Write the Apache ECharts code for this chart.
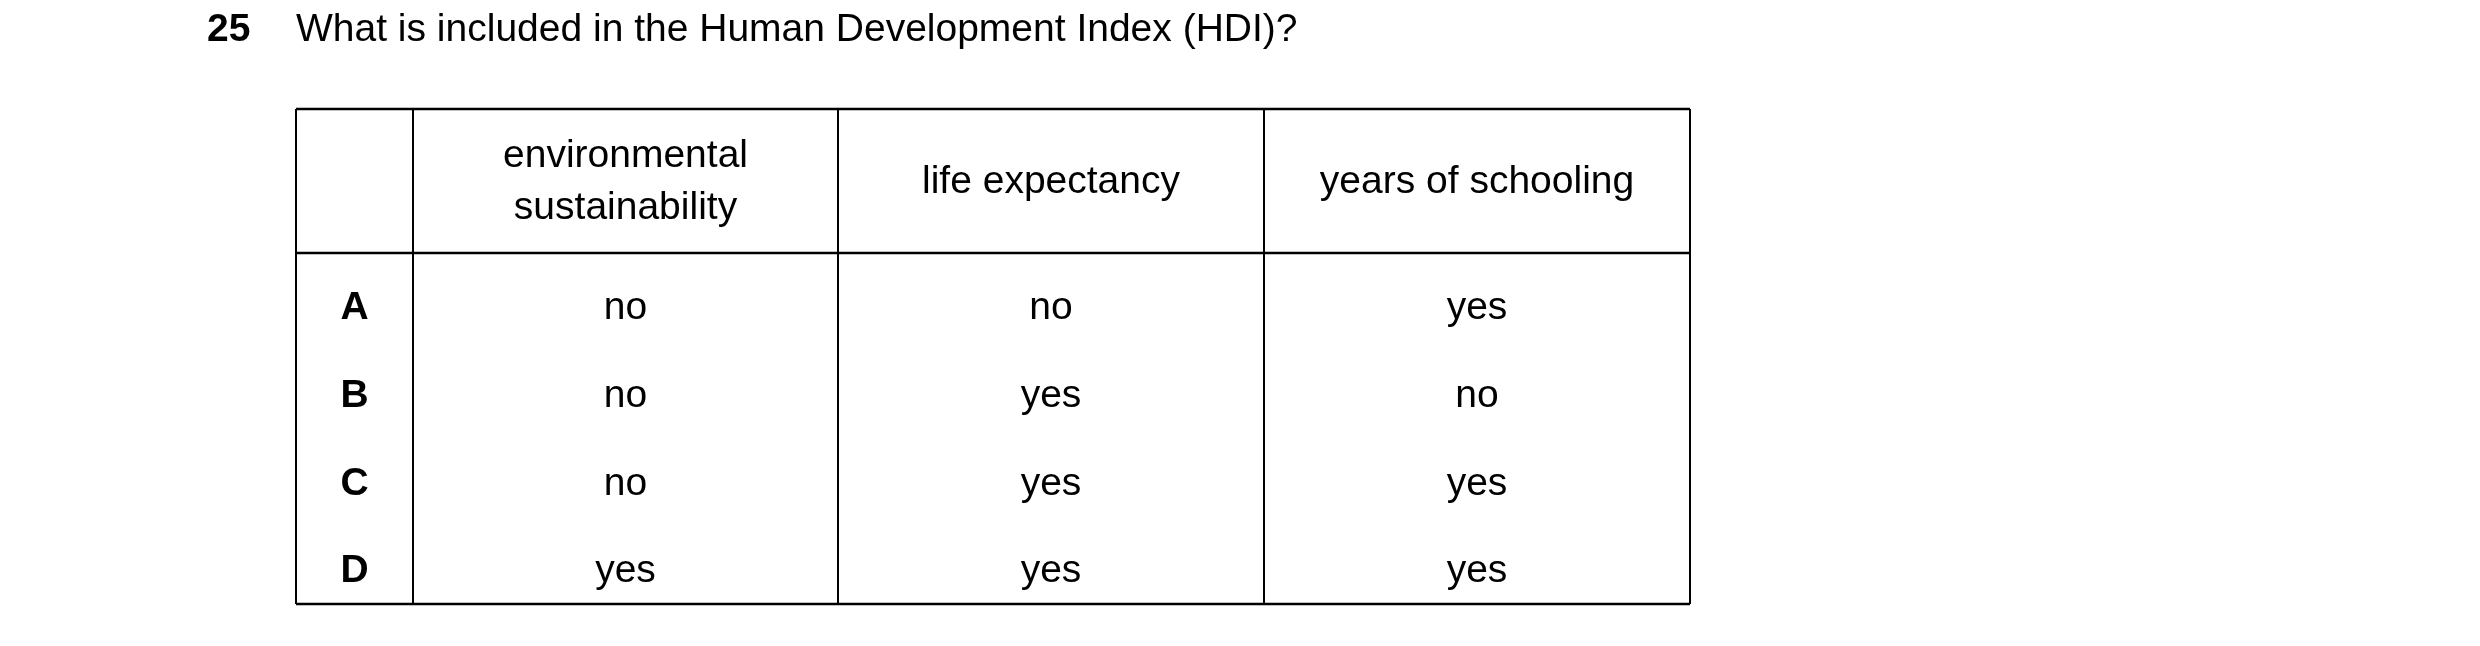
<!DOCTYPE html>
<html><head><meta charset="utf-8">
<script src="https://cdn.jsdelivr.net/npm/echarts@6/dist/echarts.min.js"></script>
<style>html,body{margin:0;background:#fff}#c{width:2480px;height:646px}</style>
</head><body><div id="c"></div>
<script>
const questionNumber = '25';
const questionText = 'What is included in the Human Development Index (HDI)?';
const columns = ['environmental\nsustainability', 'life expectancy', 'years of schooling'];
const rowLabels = ['A', 'B', 'C', 'D'];
const environmental = ['no', 'no', 'no', 'yes'];
const lifeExpectancy = ['no', 'yes', 'yes', 'yes'];
const schooling = ['yes', 'no', 'yes', 'yes'];

(function () {
const chart = echarts.init(document.getElementById('c'));
const F = 'Liberation Sans, Arial, sans-serif';
const colX = [296, 413, 838, 1264, 1690];
const tableTop = 109, headBottom = 253, tableBottom = 604;
const rowY = [308, 396, 484, 571];
const g = [];
const line = (x1, y1, x2, y2, w) => g.push({type:'line', shape:{x1,y1,x2,y2}, style:{stroke:'#000', lineWidth:w}});
const text = (x, y, t, size, bold) => g.push({type:'text', x, y, style:{text:t, font:(bold?'bold ':'')+size+'px '+F, fill:'#000', align:'center', verticalAlign:'middle', lineHeight:52}});
g.push({type:'text', x:207, y:30, style:{text:questionNumber, font:'bold 39px '+F, fill:'#000', align:'left', verticalAlign:'middle'}});
g.push({type:'text', x:296, y:30, style:{text:questionText, font:'39px '+F, fill:'#000', align:'left', verticalAlign:'middle'}});
line(colX[0], tableTop, colX[4], tableTop, 2.5);
line(colX[0], headBottom, colX[4], headBottom, 2.5);
line(colX[0], tableBottom, colX[4], tableBottom, 2.5);
colX.forEach(x => line(x, tableTop, x, tableBottom, 2));
columns.forEach((c, i) => text((colX[i+1] + colX[i+2]) / 2, 182, c, 39, false));
const vals = [environmental, lifeExpectancy, schooling];
rowLabels.forEach((r, j) => {
  text((colX[0] + colX[1]) / 2, rowY[j], r, 39, true);
  vals.forEach((v, i) => text((colX[i+1] + colX[i+2]) / 2, rowY[j], v[j], 39, false));
});
chart.setOption({animation:false, graphic:{elements:g}});
})();
</script></body></html>
